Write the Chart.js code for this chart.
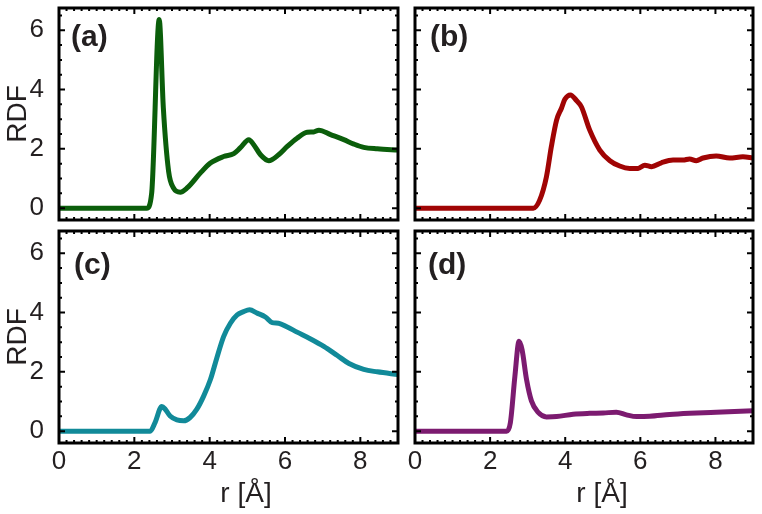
<!DOCTYPE html>
<html><head><meta charset="utf-8">
<script src="https://cdn.jsdelivr.net/npm/chart.js@4/dist/chart.umd.min.js"></script>
<style>
html,body{margin:0;padding:0;background:#fff;}
#wrap{position:relative;width:762px;height:514px;overflow:hidden;background:#fff;}
.pane{position:absolute;}
.lbl{position:absolute;font:bold 30px "Liberation Sans",Arial,sans-serif;color:#231f20;line-height:1;white-space:nowrap;}
.xt{position:absolute;font:28px "Liberation Sans",Arial,sans-serif;color:#231f20;line-height:1;transform:translateX(-50%);white-space:nowrap;}
</style></head>
<body>
<div id="wrap">
  <div class="pane" style="left:0;top:0;width:402px;height:224px"><canvas id="ca"></canvas></div>
  <div class="pane" style="left:402px;top:0;width:360px;height:224px"><canvas id="cb"></canvas></div>
  <div class="pane" style="left:0;top:224px;width:402px;height:290px"><canvas id="cc"></canvas></div>
  <div class="pane" style="left:402px;top:224px;width:360px;height:290px"><canvas id="cd"></canvas></div>
  <div class="lbl" style="left:71px;top:21px">(a)</div>
  <div class="lbl" style="left:430px;top:21px">(b)</div>
  <div class="lbl" style="left:74px;top:249px">(c)</div>
  <div class="lbl" style="left:428px;top:249px">(d)</div>
  <div class="xt" style="left:246px;top:479px">r [Å]</div>
  <div class="xt" style="left:602px;top:479px">r [Å]</div>
</div>
<script>
// ---- data ----
const panelLabels = ['(a)', '(b)', '(c)', '(d)'];
const xTitle = 'r [Å]';
const yTitle = 'RDF';
const xTickVals = [0, 2, 4, 6, 8];
const yTickVals = [0, 2, 4, 6];
const xMinorStep = 0.2;
const yMinorStep = 0.5;
const xRange = [0, 9];
const yRange = [-0.4, 6.75];

const rA = [0, 2.33, 2.46, 2.66, 2.77, 2.91, 3.04, 3.22, 3.40, 3.75, 4.02, 4.37, 4.64, 4.81, 5.04, 5.17, 5.35, 5.57, 5.83, 6.06, 6.32, 6.59, 6.76, 6.90, 7.21, 7.56, 7.83, 8.09, 8.45, 9.0];
const gA = [0, 0, 0.5, 6.36, 3.38, 1.24, 0.68, 0.54, 0.68, 1.18, 1.52, 1.74, 1.84, 2.03, 2.31, 2.14, 1.80, 1.60, 1.80, 2.08, 2.36, 2.56, 2.57, 2.63, 2.48, 2.31, 2.16, 2.05, 2.00, 1.96];

const rB = [0, 3.15, 3.32, 3.50, 3.63, 3.77, 3.90, 3.99, 4.14, 4.30, 4.43, 4.65, 4.92, 5.19, 5.45, 5.72, 5.94, 6.12, 6.30, 6.56, 6.87, 7.14, 7.31, 7.49, 7.67, 8.02, 8.38, 8.73, 9.0];
const gB = [0, 0, 0.27, 1.06, 2.07, 2.97, 3.37, 3.67, 3.82, 3.63, 3.42, 2.64, 1.96, 1.60, 1.42, 1.34, 1.34, 1.45, 1.40, 1.53, 1.62, 1.62, 1.66, 1.60, 1.69, 1.76, 1.69, 1.73, 1.69];

const rC = [0, 2.42, 2.55, 2.73, 2.82, 2.95, 3.13, 3.31, 3.48, 3.66, 3.84, 4.02, 4.19, 4.37, 4.55, 4.73, 4.90, 5.06, 5.26, 5.48, 5.66, 5.83, 6.06, 6.32, 6.68, 7.03, 7.39, 7.70, 8.09, 8.45, 9.0];
const gC = [0, 0, 0.29, 0.83, 0.74, 0.51, 0.38, 0.35, 0.46, 0.74, 1.18, 1.74, 2.47, 3.19, 3.64, 3.92, 4.03, 4.09, 3.98, 3.85, 3.66, 3.64, 3.51, 3.34, 3.11, 2.86, 2.55, 2.28, 2.08, 2.00, 1.91];

const rD = [0, 2.44, 2.54, 2.66, 2.77, 2.85, 2.97, 3.10, 3.28, 3.50, 3.77, 4.21, 4.65, 5.01, 5.36, 5.63, 5.90, 6.25, 6.78, 7.31, 8.02, 9.0];
const gD = [0, 0, 0.29, 1.85, 3.03, 2.75, 1.74, 1.02, 0.63, 0.48, 0.49, 0.57, 0.60, 0.61, 0.64, 0.55, 0.49, 0.50, 0.56, 0.60, 0.64, 0.69];

const colors = ['#0b5e0b', '#a00404', '#118a99', '#7c1b70'];
// ---------------------------------------

const textColor = '#231f20';
const fontFam = '"Liberation Sans", Arial, sans-serif';

const framePlugin = {
  id: 'frame',
  afterDatasetsDraw(chart) {
    const { ctx, chartArea: { left, right, top, bottom }, scales: { x, y } } = chart;
    ctx.save();
    ctx.strokeStyle = '#000';
    ctx.lineWidth = 2;
    const tick = (len, vals, isX) => {
      vals.forEach(v => {
        ctx.beginPath();
        if (isX) {
          const p = x.getPixelForValue(v);
          ctx.moveTo(p, bottom); ctx.lineTo(p, bottom - len);
          ctx.moveTo(p, top); ctx.lineTo(p, top + len);
        } else {
          const p = y.getPixelForValue(v);
          ctx.moveTo(left, p); ctx.lineTo(left + len, p);
          ctx.moveTo(right, p); ctx.lineTo(right - len, p);
        }
        ctx.stroke();
      });
    };
    const xMinor = [], yMinor = [];
    for (let i = 0; i * xMinorStep <= xRange[1] + 1e-9; i++) {
      const v = +(i * xMinorStep).toFixed(3);
      if (!xTickVals.includes(v)) xMinor.push(v);
    }
    for (let i = Math.ceil(yRange[0] / yMinorStep); i * yMinorStep <= yRange[1]; i++) {
      const v = +(i * yMinorStep).toFixed(3);
      if (!yTickVals.includes(v)) yMinor.push(v);
    }
    tick(3, xMinor, true);
    tick(3, yMinor, false);
    tick(6, xTickVals, true);
    tick(6, yTickVals, false);
    ctx.lineWidth = 3;
    ctx.strokeRect(left, top, right - left, bottom - top);
    ctx.restore();
  }
};

function makeChart(id, xs, ys, color, opt) {
  const pts = xs.map((v, i) => ({ x: v, y: ys[i] }));
  return new Chart(document.getElementById(id), {
    type: 'line',
    data: { datasets: [{ data: pts, borderColor: color, borderWidth: 5, pointRadius: 0,
      cubicInterpolationMode: 'monotone', borderJoinStyle: 'round', borderCapStyle: 'round', fill: false }] },
    options: {
      responsive: true, maintainAspectRatio: false, animation: false,
      events: [],
      layout: { padding: opt.pad },
      plugins: { legend: { display: false }, tooltip: { enabled: false }, title: { display: false } },
      scales: {
        x: {
          type: 'linear', min: xRange[0], max: xRange[1],
          grid: { display: false }, border: { display: false },
          afterBuildTicks: s => { s.ticks = xTickVals.map(v => ({ value: v })); },
          afterFit: s => { s.height = opt.xH; s.paddingLeft = 0; s.paddingRight = 0; },
          ticks: { display: opt.xLabels, color: textColor, padding: opt.xPad, maxRotation: 0, autoSkip: false,
            font: { family: fontFam, size: 26 } },
          title: { display: false }
        },
        y: {
          type: 'linear', min: yRange[0], max: yRange[1],
          grid: { display: false }, border: { display: false },
          afterBuildTicks: s => { s.ticks = yTickVals.map(v => ({ value: v })); },
          afterFit: s => { s.width = opt.yW; s.paddingTop = 0; s.paddingBottom = 0; },
          ticks: { display: opt.yLabels, color: textColor, padding: 7, autoSkip: false,
            font: { family: fontFam, size: 26 } },
          title: { display: opt.yLabels, text: yTitle, color: textColor, padding: { top: 1, bottom: 0 },
            font: { family: fontFam, size: 28 } }
        }
      }
    },
    plugins: [framePlugin]
  });
}

makeChart('ca', rA, gA, colors[0], { pad: { left: 0, top: 8, right: 4, bottom: 4 }, xH: 0, yW: 59, xLabels: false, yLabels: true, xPad: 0 });
makeChart('cb', rB, gB, colors[1], { pad: { left: 13, top: 8, right: 9, bottom: 4 }, xH: 0, yW: 0, xLabels: false, yLabels: false, xPad: 0 });
makeChart('cc', rC, gC, colors[2], { pad: { left: 0, top: 7, right: 4, bottom: 0 }, xH: 71, yW: 59, xLabels: true, yLabels: true, xPad: -5 });
makeChart('cd', rD, gD, colors[3], { pad: { left: 13, top: 7, right: 9, bottom: 0 }, xH: 71, yW: 0, xLabels: true, yLabels: false, xPad: -5 });
</script>
</body></html>
